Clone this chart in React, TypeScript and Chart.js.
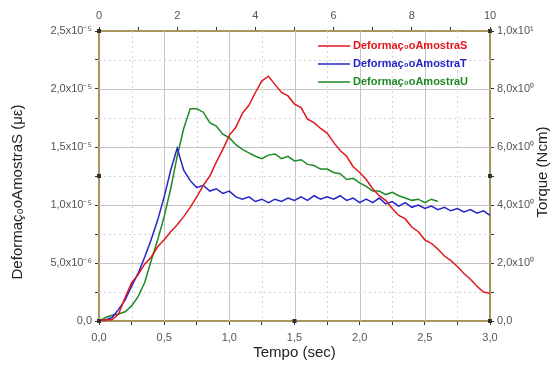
import { useEffect, useRef } from "react";
import { Chart, registerables } from "chart.js";
Chart.register(...registerables);

// Time (sec)
const time = [
  0, 0.05, 0.1, 0.15, 0.2, 0.25, 0.3, 0.35, 0.4, 0.45,
  0.5, 0.55, 0.6, 0.65, 0.7, 0.75, 0.8, 0.85, 0.9, 0.95,
  1.0, 1.05, 1.1, 1.15, 1.2, 1.25, 1.3, 1.35, 1.4, 1.45,
  1.5, 1.55, 1.6, 1.65, 1.7, 1.75, 1.8, 1.85, 1.9, 1.95,
  2.0, 2.05, 2.1, 2.15, 2.2, 2.25, 2.3, 2.35, 2.4, 2.45,
  2.5, 2.55, 2.6, 2.65, 2.7, 2.75, 2.8, 2.85, 2.9, 2.95, 3.0,
];

// Strain values in units of 1e-5
const strainS = [
  0.0, 0.01, 0.01, 0.06, 0.2, 0.33, 0.4, 0.49, 0.55, 0.64,
  0.7, 0.77, 0.83, 0.9, 0.98, 1.07, 1.17, 1.25, 1.37, 1.48,
  1.6, 1.67, 1.79, 1.86, 1.97, 2.07, 2.11, 2.04, 1.97, 1.94,
  1.87, 1.84, 1.74, 1.71, 1.66, 1.62, 1.54, 1.47, 1.42, 1.33,
  1.28, 1.22, 1.14, 1.08, 1.04, 0.97, 0.91, 0.88, 0.81, 0.77,
  0.7, 0.67, 0.62, 0.56, 0.52, 0.47, 0.41, 0.36, 0.3, 0.25, 0.24,
];
const strainT = [
  0.0, 0.01, 0.03, 0.1, 0.18, 0.3, 0.41, 0.55, 0.7, 0.87,
  1.07, 1.3, 1.49, 1.3, 1.21, 1.15, 1.17, 1.12, 1.14, 1.1,
  1.12, 1.07, 1.05, 1.07, 1.03, 1.05, 1.02, 1.05, 1.03, 1.06,
  1.04, 1.07, 1.04, 1.08, 1.05, 1.07, 1.05, 1.08, 1.04, 1.06,
  1.02, 1.05, 1.02, 1.06, 1.01, 1.03, 0.99, 1.02, 0.98, 1.0,
  0.97, 0.99, 0.96, 0.98, 0.95, 0.97, 0.94, 0.96, 0.93, 0.95, 0.91,
];
const strainU = [
  0.0, 0.03, 0.05, 0.06, 0.08, 0.13, 0.21, 0.33, 0.52, 0.7,
  0.9, 1.14, 1.42, 1.66, 1.83, 1.83, 1.8, 1.71, 1.68, 1.61,
  1.58, 1.52, 1.48, 1.45, 1.42, 1.4, 1.43, 1.44, 1.4, 1.42,
  1.38, 1.39, 1.35, 1.34, 1.31, 1.31, 1.28, 1.27, 1.22, 1.23,
  1.19, 1.16, 1.12, 1.12, 1.09, 1.11, 1.08, 1.06, 1.04, 1.05,
  1.02, 1.05, 1.03, null, null, null, null, null, null, null, null,
];

const seriesNames = ["Deformaç₀oAmostraS", "Deformaç₀oAmostraT", "Deformaç₀oAmostraU"];
const seriesColors = ["#e3161c", "#2424c8", "#1f8a24"];

const bottomTickLabels = ["0,0", "0,5", "1,0", "1,5", "2,0", "2,5", "3,0"];
const topTickLabels = ["0", "2", "4", "6", "8", "10"];
const leftTickLabels = ["0,0", "5,0x10⁻⁶", "1,0x10⁻⁵", "1,5x10⁻⁵", "2,0x10⁻⁵", "2,5x10⁻⁵"];
const rightTickLabels = ["0,0", "2,0x10⁰", "4,0x10⁰", "6,0x10⁰", "8,0x10⁰", "1,0x10¹"];

const xTitle = "Tempo (sec)";
const yTitle = "Deformaç₀oAmostraS (με)";
const y2Title = "Torque (Ncm)";

// axis anchor markers (x in sec, y in 1e-5)
const anchorX = [0, 3, 0, 3, 1.5, 3, 0];
const anchorY = [2.5, 2.5, 1.25, 1.25, 0, 0, 0];

const FONT = "'Liberation Sans', Arial, sans-serif";
const AXIS_COLOR = "#a8965f";

const gridPlugin = {
  id: "customGrid",
  beforeDatasetsDraw(chart: any) {
    const { ctx, chartArea } = chart;
    const xs = chart.scales.x;
    const ys = chart.scales.y;
    ctx.save();
    ctx.lineWidth = 1;
    xs.ticks.forEach((t: any, i: number) => {
      if (i === 0 || i === xs.ticks.length - 1) return;
      const px = Math.round(xs.getPixelForValue(t.value)) + 0.5;
      ctx.strokeStyle = i % 2 === 0 ? "#c4c4c4" : "#d4d4d4";
      ctx.setLineDash(i % 2 === 0 ? [] : [2, 3]);
      ctx.beginPath();
      ctx.moveTo(px, chartArea.top);
      ctx.lineTo(px, chartArea.bottom);
      ctx.stroke();
    });
    ys.ticks.forEach((t: any, i: number) => {
      if (i === 0 || i === ys.ticks.length - 1) return;
      const py = Math.round(ys.getPixelForValue(t.value)) + 0.5;
      ctx.strokeStyle = i % 2 === 0 ? "#c4c4c4" : "#d4d4d4";
      ctx.setLineDash(i % 2 === 0 ? [] : [2, 3]);
      ctx.beginPath();
      ctx.moveTo(chartArea.left, py);
      ctx.lineTo(chartArea.right, py);
      ctx.stroke();
    });
    ctx.restore();
  },
};

const overlayPlugin = {
  id: "overlay",
  afterDraw(chart: any) {
    const { ctx, chartArea } = chart;
    const xs = chart.scales.x;
    const ys = chart.scales.y;
    ctx.save();
    // legend
    ctx.font = `bold 11px ${FONT}`;
    ctx.textBaseline = "middle";
    chart.data.datasets.forEach((ds: any, i: number) => {
      const y = chartArea.top + 15 + i * 18;
      const x0 = chartArea.left + 219;
      ctx.strokeStyle = ds.borderColor;
      ctx.lineWidth = 1.5;
      ctx.beginPath();
      ctx.moveTo(x0, y);
      ctx.lineTo(x0 + 32, y);
      ctx.stroke();
      ctx.fillStyle = ds.borderColor;
      ctx.fillText(ds.label, x0 + 35, y);
    });
    // anchor markers
    ctx.fillStyle = "#333";
    anchorX.forEach((v, i) => {
      const px = xs.getPixelForValue(v);
      const py = ys.getPixelForValue(anchorY[i]);
      ctx.fillRect(px - 2, py - 2, 4, 4);
    });
    // titles
    ctx.fillStyle = "#222";
    ctx.font = `15px ${FONT}`;
    ctx.textAlign = "center";
    ctx.textBaseline = "middle";
    ctx.fillText(xTitle, (chartArea.left + chartArea.right) / 2, 353);
    ctx.save();
    ctx.translate(18, (chartArea.top + chartArea.bottom) / 2 + 16);
    ctx.rotate(-Math.PI / 2);
    ctx.fillText(yTitle, 0, 0);
    ctx.restore();
    ctx.save();
    ctx.translate(543, (chartArea.top + chartArea.bottom) / 2 - 4);
    ctx.rotate(-Math.PI / 2);
    ctx.fillText(y2Title, 0, 0);
    ctx.restore();
    ctx.restore();
  },
};

export default function App() {
  const ref = useRef<HTMLCanvasElement>(null);
  useEffect(() => {
    const sets = [strainS, strainT, strainU];
    const tickFont = { family: FONT, size: 11 };
    const gridOpts = {
      display: true,
      drawOnChartArea: false,
      drawTicks: true,
      tickLength: 4,
      tickColor: "#333",
      tickWidth: 1,
    };
    const border = { display: true, color: AXIS_COLOR, width: 2 };
    const chart = new Chart(ref.current!, {
      type: "line",
      data: {
        datasets: sets.map((arr, i) => ({
          label: seriesNames[i],
          data: time.map((t, j) => ({ x: t, y: arr[j] })),
          borderColor: seriesColors[i],
          backgroundColor: seriesColors[i],
          borderWidth: 1.5,
          pointRadius: 0,
          tension: 0,
          spanGaps: false,
          xAxisID: "x",
          yAxisID: "y",
        })),
      },
      options: {
        responsive: false,
        animation: false,
        layout: { padding: 0 },
        plugins: { legend: { display: false }, tooltip: { enabled: false } },
        scales: {
          x: {
            type: "linear",
            position: "bottom",
            min: 0,
            max: 3,
            afterFit: (s: any) => { s.height = 46; },
            ticks: {
              stepSize: 0.25,
              autoSkip: false,
              maxRotation: 0,
              padding: 6,
              color: "#555",
              font: tickFont,
              callback: (_v: any, i: number) => (i % 2 === 0 ? bottomTickLabels[i / 2] : ""),
            },
            grid: gridOpts,
            border,
          },
          x2: {
            type: "linear",
            position: "top",
            min: 0,
            max: 10,
            afterFit: (s: any) => { s.height = 31; },
            ticks: {
              stepSize: 1,
              autoSkip: false,
              maxRotation: 0,
              padding: 4,
              color: "#555",
              font: tickFont,
              callback: (_v: any, i: number) => (i % 2 === 0 ? topTickLabels[i / 2] : ""),
            },
            grid: gridOpts,
            border,
          },
          y: {
            type: "linear",
            position: "left",
            min: 0,
            max: 2.5,
            afterFit: (s: any) => { s.width = 99; },
            ticks: {
              stepSize: 0.25,
              autoSkip: false,
              padding: 3,
              color: "#555",
              font: tickFont,
              callback: (_v: any, i: number) => (i % 2 === 0 ? leftTickLabels[i / 2] : ""),
            },
            grid: gridOpts,
            border,
          },
          y2: {
            type: "linear",
            position: "right",
            min: 0,
            max: 10,
            afterFit: (s: any) => { s.width = 66; },
            ticks: {
              stepSize: 1,
              autoSkip: false,
              padding: 3,
              color: "#555",
              font: tickFont,
              callback: (_v: any, i: number) => (i % 2 === 0 ? rightTickLabels[i / 2] : ""),
            },
            grid: gridOpts,
            border,
          },
        },
      } as any,
      plugins: [gridPlugin, overlayPlugin],
    });
    return () => chart.destroy();
  }, []);
  return (
    <div style={{ position: "fixed", left: 0, top: 0, width: 556, height: 367, background: "#fff" }}>
      <canvas ref={ref} width={556} height={367} />
    </div>
  );
}
